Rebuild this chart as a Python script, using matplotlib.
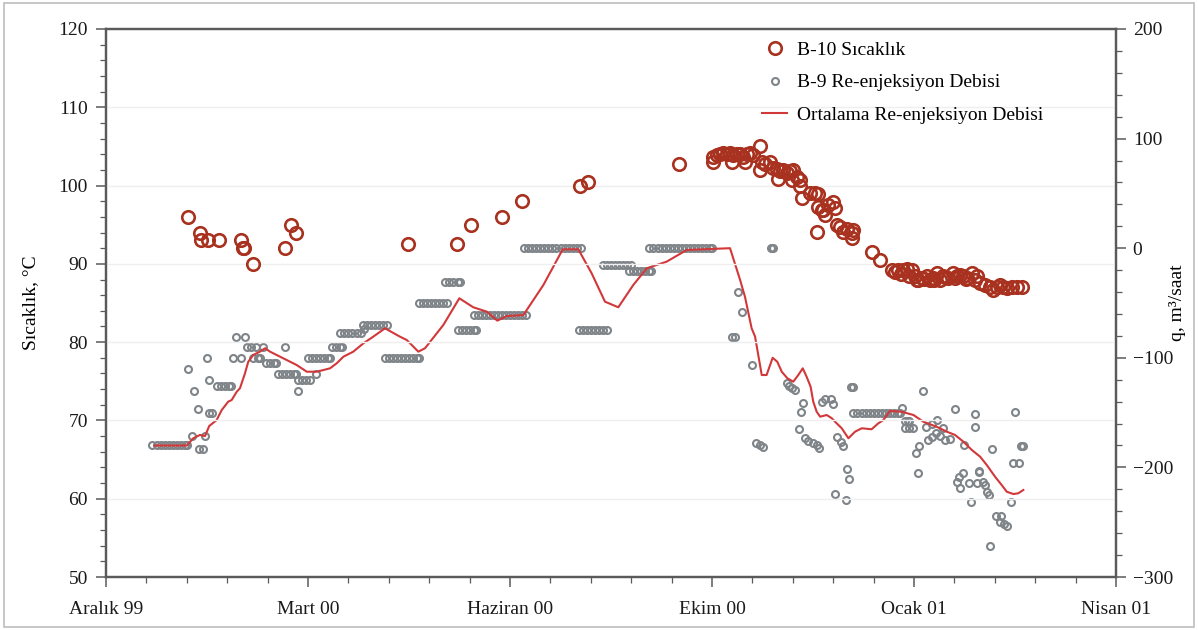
import numpy as np
import matplotlib
matplotlib.use("Agg")
import matplotlib.pyplot as plt
from matplotlib.patches import Rectangle
from matplotlib.ticker import MultipleLocator

plt.rcParams['font.family'] = ['Liberation Serif', 'DejaVu Serif']

# x is days counted from the start of the axis (Aralik 99 = 0)
tick_days = [0, 100, 200, 300, 400, 500]
tick_labels = ['Aralık 99', 'Mart 00', 'Haziran 00', 'Ekim 00', 'Ocak 01', 'Nisan 01']

# B-10 temperature, degC
b10_day = [40.6, 46.5, 47, 50.5, 56, 67, 68, 68.5, 73, 88.6, 91.6, 94,
           149.5, 173.8, 180.7, 196, 206, 234.7, 238.6, 283.7,
           300.6, 302.3, 304, 305.6, 307.3, 308.9, 310.5, 312.2, 313.9, 315.5,
           317.2, 318.8, 320.5, 323.8, 300.6, 309.8, 316.3, 324.6, 323.8, 326.2,
           328.7, 330.4, 332, 333.7, 332.8, 335.3, 337, 338.6, 340.3, 339.4,
           341.9, 343.6, 343.6, 344.4, 348.5, 351, 352.6, 352.6, 354.3, 355.9,
           355.1, 357.6, 360, 360.9, 351.8, 361.7, 363.4, 365, 366.7, 369.1,
           369.1, 370, 379, 383.2, 388.9, 392.2, 394.7, 396.4, 398.8, 400.5,
           402.1, 403.8, 406.2, 407.9, 409.6, 411.2, 412.9, 414.5, 417, 419.5,
           421.1, 422.8, 424.4, 426.1, 428.6, 431, 432.7, 435.1, 437.6, 439.3,
           440.9, 442.6, 444.2, 445.9, 448.4, 450.8, 453.3,
           390.5, 393.5, 397.5, 401.5, 405, 410, 415.5, 420.5, 425.5, 430]
b10_temp = [96.0, 94.0, 93.0, 93.0, 93.0, 93.0, 92.0, 92.0, 90.0, 92.0, 95.0, 94.0,
            92.5, 92.5, 95.0, 96.0, 98.0, 100.0, 100.5, 102.8,
            103.7, 103.9, 104.0, 104.1, 104.0, 104.1, 103.9, 104.0, 104.0, 103.7,
            104.0, 104.1, 103.9, 105.0, 103.0, 103.0, 103.0, 103.0, 102.0, 102.8,
            103.0, 102.2, 102.1, 101.8, 100.9, 102.0, 101.6, 101.8, 102.0, 100.7,
            101.1, 100.7, 99.9, 98.4, 99.0, 99.0, 98.9, 97.3, 96.9, 96.2,
            96.9, 97.5, 97.9, 97.1, 94.1, 95.0, 94.7, 94.1, 94.5, 93.9,
            93.3, 94.3, 91.5, 90.5, 89.2, 89.2, 89.2, 89.4, 89.2, 88.4,
            87.9, 88.2, 88.4, 87.9, 88.2, 88.8, 87.9, 88.4, 88.2, 88.8,
            88.4, 88.6, 88.4, 88.2, 88.8, 88.4, 87.5, 87.3, 87.1, 86.7,
            87.1, 87.3, 87.1, 86.9, 87.1, 87.1, 87.1,
            88.9, 88.7, 88.5, 88.0, 88.1, 88.0, 88.3, 88.2, 88.1, 88.0]

# B-9 re-injection rate, m3/h
b9_day = [23, 25, 27, 29, 31, 33, 35, 37, 39, 40,
          40.8, 43.7, 45.7, 42.7, 46, 48, 49, 49.8, 50.8, 50.8, 52.5,
          55, 57, 59, 61, 62, 62.7, 66.6, 64.2, 68.7,
          70, 72, 74, 73, 75, 76, 77.5, 79, 81, 83, 84,
          85, 87, 89, 91, 93, 94, 88.8, 94.9, 95, 97, 99, 101,
          100, 102, 104, 106, 108, 110, 111, 103.8,
          112, 114, 116, 117, 116, 118, 120, 122, 124, 126, 127.7,
          127, 129, 131, 133, 135, 137, 139,
          138, 140, 142, 144, 146, 148, 150, 152, 154, 155,
          155, 157, 159, 161, 163, 165, 167, 169,
          168, 170, 172, 174, 175,
          174, 176, 178, 180, 182, 183,
          182, 184, 186, 188, 190, 192, 194, 196, 198, 200, 202, 204, 206, 208,
          207, 209, 211, 213, 215, 217, 219, 221, 223, 225, 227, 229, 231, 233, 235,
          234, 236, 238, 240, 242, 244, 246, 248,
          246, 248, 250, 252, 254, 256, 258, 260,
          259, 261, 263, 265, 267, 269, 270,
          269, 271, 273, 275, 277, 279, 281, 283, 285, 287, 289, 291, 293, 295, 297, 299, 300,
          309.7, 311.4, 313, 314.7, 320, 321.8, 323.8, 325.1, 329.2, 330,
          337, 338.3, 339.4, 341.1, 343, 343.9, 345.2, 346, 347.7, 350.1, 352.1, 353.1,
          354.3, 356, 358.7, 360, 360.9, 361.7, 363.7, 365, 366.2, 366.7, 367.8, 368.8, 370,
          370, 372, 374, 376, 378, 380, 382, 384, 386, 388, 390, 392, 393,
          394, 395.5, 397.2, 397.7, 399.7, 395.5, 397.7, 401, 401.8, 402.6, 404.3,
          405.9, 407.1, 408.8, 408.8, 410.9, 411.2, 412.9, 414.2, 415.3, 417.8,
          420.3, 421.1, 422.3, 422.8, 424.1, 424.9, 427.2, 428.1, 430.2, 430.2,
          431, 432.2, 432.3, 434, 435.1, 436.3, 437.3, 437.6, 438.8, 440.6, 442.6,
          442.9, 444.6, 445.9, 448, 448.9, 450, 452.1, 452.8, 454.1]
b9_q = [-180, -180, -180, -180, -180, -180, -180, -180, -180, -180,
        -110, -130, -147, -171, -183, -183, -171, -100, -120, -150, -150,
        -126, -126, -126, -126, -126, -100, -100, -81, -81,
        -90, -90, -90, -100, -100, -100, -90, -105, -105, -105, -105,
        -115, -115, -115, -115, -115, -115, -90, -130, -120, -120, -120, -120,
        -100, -100, -100, -100, -100, -100, -100, -115,
        -90, -90, -90, -90, -77, -77, -77, -77, -77, -77, -74,
        -70, -70, -70, -70, -70, -70, -70,
        -100, -100, -100, -100, -100, -100, -100, -100, -100, -100,
        -50, -50, -50, -50, -50, -50, -50, -50,
        -31, -31, -31, -31, -31,
        -75, -75, -75, -75, -75, -75,
        -61, -61, -61, -61, -61, -61, -61, -61, -61, -61, -61, -61, -61, -61,
        0, 0, 0, 0, 0, 0, 0, 0, 0, 0, 0, 0, 0, 0, 0,
        -75, -75, -75, -75, -75, -75, -75, -75,
        -15, -15, -15, -15, -15, -15, -15, -15,
        -21, -21, -21, -21, -21, -21, -21,
        0, 0, 0, 0, 0, 0, 0, 0, 0, 0, 0, 0, 0, 0, 0, 0, 0,
        -81, -81, -40, -58.5, -107, -178, -180, -181, 0, 0,
        -123, -126, -128, -129, -165, -149, -141, -173, -176, -177.5, -180, -182,
        -140, -138, -138, -142, -224, -172, -176.5, -180.5, -230, -201, -211, -127, -127,
        -150, -150, -150, -150, -150, -150, -150, -150, -150, -150, -150, -150, -150,
        -145.5, -164, -158, -164, -164, -158, -158, -187, -205, -180.5, -130,
        -163, -175, -160, -172, -169, -157, -171, -164, -175, -174,
        -147, -213, -208.5, -219, -205, -180, -214, -232, -151, -163,
        -214.5, -204, -203, -213, -216, -222, -225, -272, -183, -244, -249.5,
        -244, -252, -253, -232, -196, -149, -196, -180.5, -180.5]

# mean re-injection rate, m3/h
avg_day = [24, 40, 43.2, 46.5, 49, 51.1, 54.8, 55.6, 57.3, 60.5, 62.2, 64.7, 66.3,
           68.8, 70.4, 72.9, 76.2, 78.7, 81.2, 87.8, 94.4, 99.4, 104.3, 110.9,
           114.2, 117.5, 122.4, 127.4, 132.3, 138.1, 145.5, 148.9, 154.6, 157.9,
           167, 174.9, 181.8, 188.5, 193.7, 198.4, 206.6, 216.5, 226.1, 233.8,
           240.4, 247, 253.6, 261, 267.7, 277.5, 287.5, 308.9, 313.9, 316.3,
           319.6, 321.3, 324.6, 327, 330, 332.3, 334.5, 337.3, 340.2, 342.7,
           344.9, 346.8, 348.8, 350.1, 351.8, 353.5, 356.8, 359.3, 361.7, 364.2,
           367.5, 370.8, 374.1, 379, 382.3, 384.8, 388.1, 393.9, 399.7, 404.6,
           411.2, 416.2, 420.3, 424.4, 428.6, 432.7, 436, 440.1, 443.4, 445.9,
           449.2, 451.6, 454.1]
avg_q = [-180, -180, -173.4, -170.4, -171.4, -162.2, -156.8, -153.7, -147.6, -140,
         -138.5, -131, -127.8, -114.1, -103.6, -97.4, -94.4, -91.3, -94.4, -100.5,
         -106.6, -112.7, -112.7, -109.6, -105, -99, -94.4, -86.8, -80.7, -73.1,
         -80.7, -83.8, -94.4, -91.3, -70, -45.7, -53.9, -57.9, -66.1, -61.9, -61,
         -33.6, -1, -1, -22.9, -48.8, -53.9, -33.6, -18.3, -12.3, -1.6, 0, -29,
         -44.3, -73.1, -80.7, -115.7, -115.7, -100, -103.6, -112.7, -118.7, -121.8,
         -115.7, -109.6, -117.2, -126.4, -140, -149.2, -153.7, -152.2, -155.2,
         -159.8, -164.3, -173.4, -167.4, -164.3, -165.2, -159.8, -156.8, -148.5,
         -149.2, -152.2, -158.3, -162.9, -167.4, -170.4, -176.5, -184.1, -190.2,
         -197.8, -208.5, -216.1, -222.2, -224.3, -223.6, -220.6]

fig = plt.figure(figsize=(11.98, 6.30), dpi=100)
ax = fig.add_axes([0.0885, 0.0841, 0.8431, 0.8699])
ax2 = ax.twinx()

red_dark = '#a8321f'
grey = '#7f8489'
red_line = '#d2383a'
spine_c = '#5a5a5a'

ax.set_zorder(2)
ax.patch.set_visible(False)

ax.plot(b10_day, b10_temp, linestyle='none', marker='o', ms=9,
        mfc='none', mec=red_dark, mew=1.9, label='B-10 Sıcaklık')
ax2.plot(b9_day, b9_q, linestyle='none', marker='o', ms=5,
         mfc='none', mec=grey, mew=1.5, label='B-9 Re-enjeksiyon Debisi')
ax2.plot(avg_day, avg_q, color=red_line, lw=1.5,
         label='Ortalama Re-enjeksiyon Debisi')

ax.set_xlim(0, 500)
ax.set_ylim(50, 120)
ax2.set_ylim(-300, 200)

ax.set_xticks(tick_days)
ax.set_xticklabels(tick_labels)
ax.xaxis.set_minor_locator(MultipleLocator(20))
ax.yaxis.set_major_locator(MultipleLocator(10))
ax.yaxis.set_minor_locator(MultipleLocator(2))
ax2.yaxis.set_major_locator(MultipleLocator(100))
ax2.yaxis.set_minor_locator(MultipleLocator(20))

for a in (ax, ax2):
    a.tick_params(which='major', length=7, width=1.1, color=spine_c,
                  labelsize=14, labelcolor='#1a1a1a')
    a.tick_params(which='minor', length=4, width=0.9, color=spine_c)
    for s in a.spines.values():
        s.set_color(spine_c)
        s.set_linewidth(1.6)
ax.tick_params(axis='x', which='major', pad=10)
ax.tick_params(axis='y', which='major', pad=6)
ax2.tick_params(axis='y', which='major', pad=5)

ax.grid(axis='y', which='major', color='#efefef', lw=1.0)
ax.set_axisbelow(True)

ax.set_ylabel('Sıcaklık, °C', fontsize=14)
ax.yaxis.set_label_coords(-0.066, 0.5)
ax2.set_ylabel('q, m³/saat', fontsize=14)
ax2.yaxis.set_label_coords(1.052, 0.5)

h1, l1 = ax.get_legend_handles_labels()
h2, l2 = ax2.get_legend_handles_labels()
fig.legend(h1 + h2, l1 + l2, loc='upper left',
           bbox_to_anchor=(0.636, 0.934), frameon=False, fontsize=14,
           handlelength=1.3, handletextpad=0.5, labelspacing=0.75,
           borderpad=0, borderaxespad=0)

# light frame around the whole figure
fig.patches.append(Rectangle((0.003, 0.005), 0.994, 0.99, transform=fig.transFigure,
                             fill=False, edgecolor='#bdbdbd', lw=1.2))

fig.savefig('out.png', dpi=100)
